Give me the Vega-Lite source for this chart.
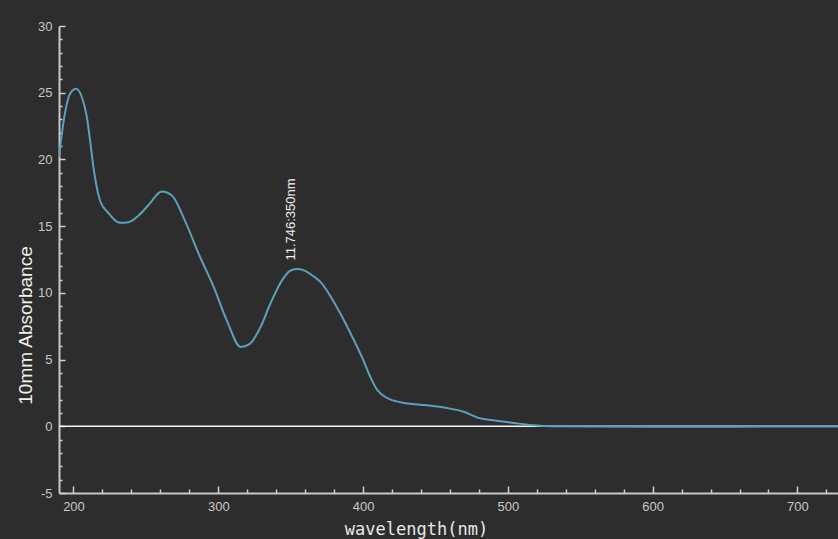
{
  "$schema": "https://vega.github.io/schema/vega-lite/v6.json",
  "width": 779,
  "height": 467,
  "autosize": {"type": "none"},
  "padding": {"left": 59, "top": 26, "right": 0, "bottom": 46},
  "background": "#2d2d2d",
  "config": {"view": {"stroke": null}},
  "datasets": {
    "spectrum": [
      {"wl": 190, "abs": 20.2},
      {"wl": 194, "abs": 23.4},
      {"wl": 197.5, "abs": 24.9},
      {"wl": 201.8, "abs": 25.3},
      {"wl": 205.7, "abs": 24.7},
      {"wl": 209.2, "abs": 23.2},
      {"wl": 211.5, "abs": 21.4},
      {"wl": 213.8, "abs": 19.4},
      {"wl": 216.1, "abs": 17.9},
      {"wl": 218.4, "abs": 16.9},
      {"wl": 224, "abs": 16.0},
      {"wl": 232, "abs": 15.25},
      {"wl": 238, "abs": 15.3},
      {"wl": 245, "abs": 15.8},
      {"wl": 252, "abs": 16.6},
      {"wl": 261, "abs": 17.6},
      {"wl": 268, "abs": 17.3},
      {"wl": 277, "abs": 15.4},
      {"wl": 287, "abs": 12.8},
      {"wl": 297, "abs": 10.4},
      {"wl": 306, "abs": 7.9},
      {"wl": 315.4, "abs": 5.95},
      {"wl": 322, "abs": 6.2},
      {"wl": 329, "abs": 7.4},
      {"wl": 336, "abs": 9.2},
      {"wl": 345, "abs": 11.1},
      {"wl": 350, "abs": 11.68},
      {"wl": 355, "abs": 11.78},
      {"wl": 360, "abs": 11.65},
      {"wl": 365, "abs": 11.3},
      {"wl": 370.7, "abs": 10.8},
      {"wl": 382, "abs": 8.9},
      {"wl": 393, "abs": 6.6},
      {"wl": 400, "abs": 5.0},
      {"wl": 405, "abs": 3.7},
      {"wl": 409, "abs": 2.85},
      {"wl": 417, "abs": 2.1},
      {"wl": 426, "abs": 1.8},
      {"wl": 444, "abs": 1.57},
      {"wl": 458, "abs": 1.37},
      {"wl": 470, "abs": 1.07},
      {"wl": 479, "abs": 0.65},
      {"wl": 490, "abs": 0.45},
      {"wl": 504, "abs": 0.25},
      {"wl": 518, "abs": 0.07},
      {"wl": 530, "abs": 0.0},
      {"wl": 560, "abs": -0.02},
      {"wl": 600, "abs": -0.03},
      {"wl": 650, "abs": -0.03},
      {"wl": 700, "abs": -0.02},
      {"wl": 728, "abs": -0.02}
    ],
    "peak": [
      {"wl": 350, "abs": 11.746, "label": "11.746:350nm"}
    ],
    "zero": [
      {"abs": 0}
    ]
  },
  "layer": [
    {
      "data": {"name": "zero"},
      "mark": {"type": "rule", "color": "#f4f4f4", "strokeWidth": 1.5},
      "encoding": {"y": {"field": "abs", "type": "quantitative"}}
    },
    {
      "data": {"name": "spectrum"},
      "mark": {"type": "line", "color": "#5e9fba", "strokeWidth": 2, "interpolate": "monotone", "clip": true},
      "encoding": {
        "x": {
          "field": "wl", "type": "quantitative",
          "scale": {"domain": [190, 728], "nice": false, "zero": false},
          "axis": {
            "title": "wavelength(nm)",
            "values": [200, 220, 240, 260, 280, 300, 320, 340, 360, 380, 400, 420, 440, 460, 480, 500, 520, 540, 560, 580, 600, 620, 640, 660, 680, 700, 720],
            "tickCount": 200,
            "labelExpr": "datum.value % 100 === 0 ? '' + datum.value : ''",
            "labelOverlap": false,
            "tickSize": {"condition": {"test": "datum.value % 100 === 0", "value": -7}, "value": -4},
            "tickColor": "#d0d0d0",
            "tickWidth": 1.5,
            "domainColor": "#c8c8c8",
            "domainWidth": 2,
            "labelColor": "#c8c8c8",
            "labelFont": "Liberation Sans",
            "labelFontSize": 13,
            "labelPadding": 14,
            "labelFlush": false,
            "grid": false,
            "titleColor": "#e8e8e8",
            "titleFont": "DejaVu Sans Mono",
            "titleFontSize": 17,
            "titleFontWeight": "normal",
            "titleX": 357,
            "titleY": 36,
            "titleBaseline": "middle"
          }
        },
        "y": {
          "field": "abs", "type": "quantitative",
          "scale": {"domain": [-5, 30], "nice": false, "zero": false},
          "axis": {
            "title": "10mm Absorbance",
            "values": [-5, -4, -3, -2, -1, 0, 1, 2, 3, 4, 5, 6, 7, 8, 9, 10, 11, 12, 13, 14, 15, 16, 17, 18, 19, 20, 21, 22, 23, 24, 25, 26, 27, 28, 29, 30],
            "tickCount": 200,
            "labelExpr": "datum.value % 5 === 0 ? '' + datum.value : ''",
            "labelOverlap": false,
            "tickSize": {"condition": {"test": "datum.value % 5 === 0", "value": -6}, "value": -3},
            "tickColor": "#d0d0d0",
            "tickWidth": 1.5,
            "domainColor": "#c8c8c8",
            "domainWidth": 2,
            "labelColor": "#c8c8c8",
            "labelFont": "Liberation Sans",
            "labelFontSize": 13,
            "labelPadding": 13,
            "labelFlush": false,
            "grid": false,
            "titleColor": "#f0f0f0",
            "titleFont": "Liberation Sans",
            "titleFontSize": 19,
            "titleFontWeight": "normal",
            "titleX": -34,
            "titleY": 299,
            "titleBaseline": "middle",
            "titleAngle": -90
          }
        }
      }
    },
    {
      "data": {"name": "peak"},
      "mark": {"type": "text", "angle": -90, "align": "left", "baseline": "middle", "dx": 9, "color": "#f0f0f0", "font": "Liberation Sans", "fontSize": 13},
      "encoding": {
        "x": {"field": "wl", "type": "quantitative"},
        "y": {"field": "abs", "type": "quantitative"},
        "text": {"field": "label"}
      }
    }
  ]
}
